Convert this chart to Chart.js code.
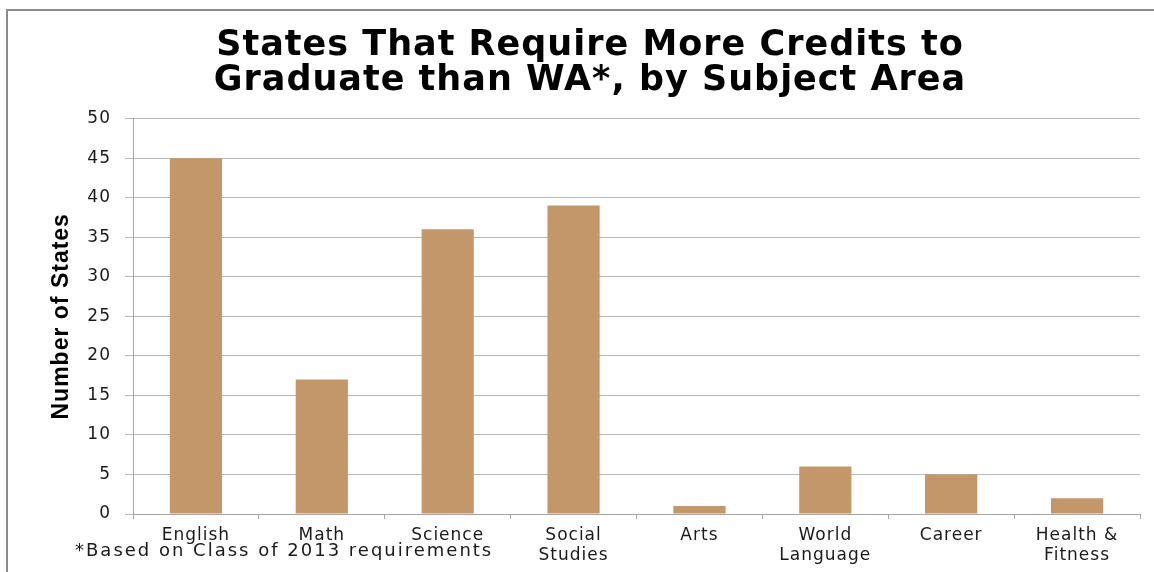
<!DOCTYPE html>
<html>
<head>
<meta charset="utf-8">
<script src="https://cdn.jsdelivr.net/npm/chart.js@4"></script>
<style>
  html, body { margin: 0; padding: 0; background: #fff; }
  #wrap { width: 1154px; height: 572px; }
</style>
</head>
<body>
<div id="wrap"><canvas id="chart" width="1154" height="572"></canvas></div>
<script>
// --- data ---
const subjects = ["English", "Math", "Science", ["Social", "Studies"], "Arts", ["World", "Language"], "Career", ["Health &", "Fitness"]];
const stateCounts = [45, 17, 36, 39, 1, 6, 5, 2];
const yTicks = [0, 5, 10, 15, 20, 25, 30, 35, 40, 45, 50];
const chartTitle = ["States That Require More Credits to", "Graduate than WA*, by Subject Area"];
const footnote = "*Based on Class of 2013 requirements";

const FONT = "'DejaVu Sans', sans-serif";

// the original text is a bit wide, so space the letters out while drawing
const spacing = {
    id: "spacing",
    beforeDraw(chart) { chart.ctx.letterSpacing = "1px"; },
    afterDraw(chart) {
        const ctx = chart.ctx;
        ctx.save();
        // frame
        ctx.strokeStyle = "#8c8c8c";
        ctx.lineWidth = 2;
        ctx.beginPath();
        ctx.moveTo(7, 572);
        ctx.lineTo(7, 10);
        ctx.lineTo(1154, 10);
        ctx.stroke();
        // footnote
        ctx.letterSpacing = "2px";
        ctx.fillStyle = "#1a1a1a";
        ctx.font = "18px " + FONT;
        ctx.textBaseline = "middle";
        ctx.fillText(footnote, 75, 551);
        ctx.restore();
        ctx.letterSpacing = "0px";
    }
};

new Chart(document.getElementById("chart"), {
    type: "bar",
    data: {
        labels: subjects,
        datasets: [{
            data: stateCounts,
            backgroundColor: "#C4976B",
            barPercentage: 0.83,
            categoryPercentage: 0.5
        }]
    },
    options: {
        responsive: false,
        animation: false,
        layout: { padding: { left: 40, right: 14, top: 0, bottom: 0 } },
        plugins: {
            legend: { display: false },
            tooltip: { enabled: false },
            title: {
                display: true,
                text: chartTitle,
                color: "#000",
                font: { family: FONT, size: 35, weight: "bold", lineHeight: 0.98 },
                padding: { top: 29, bottom: 21 }
            }
        },
        scales: {
            x: {
                grid: { drawOnChartArea: false, drawTicks: true, tickLength: 5, color: "#a6a6a6" },
                border: { color: "#a6a6a6" },
                ticks: {
                    color: "#1a1a1a",
                    font: { family: FONT, size: 17, lineHeight: 1.15 },
                    padding: 7,
                    maxRotation: 0,
                    autoSkip: false
                },
                afterFit(scale) { scale.height = 58; }
            },
            y: {
                min: 0,
                max: 50,
                afterBuildTicks(scale) { scale.ticks = yTicks.map(v => ({ value: v })); },
                grid: { color: "#b8b8b8", tickLength: 8 },
                border: { color: "#a6a6a6" },
                ticks: {
                    color: "#1a1a1a",
                    font: { family: FONT, size: 17 },
                    padding: 14
                },
                title: {
                    display: true,
                    text: "Number of States",
                    color: "#000",
                    font: { family: "'Liberation Sans Narrow', sans-serif", size: 23, weight: "bold", lineHeight: 1.15 },
                    padding: { top: 8, bottom: 4 }
                },
                afterFit(scale) { scale.width = 93; }
            }
        }
    },
    plugins: [spacing]
});
</script>
</body>
</html>
